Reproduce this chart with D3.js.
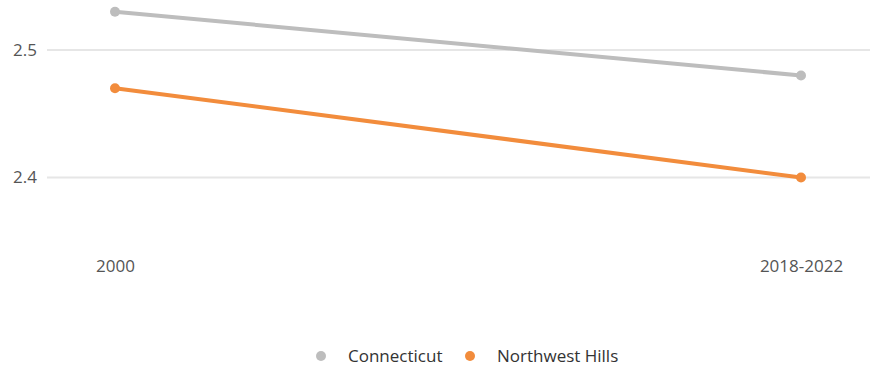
<!DOCTYPE html>
<html>
<head>
<meta charset="utf-8">
<script src="https://cdn.jsdelivr.net/npm/d3@7"></script>
<style>
  body { margin: 0; background: #fff; font-family: "Open Sans", sans-serif; }
  .axis text { fill: #555; font-size: 17px; font-family: "Open Sans", sans-serif; }
  .axis path, .axis line { display: none; }
  .grid line { stroke: #e6e6e6; stroke-width: 2; }
  .legend text { fill: #333; font-size: 17px; font-family: "Open Sans", sans-serif; }
</style>
</head>
<body>
<div id="chart"></div>
<script>
// data
const periods = ["2000", "2018-2022"];
const connecticut = [2.53, 2.48];
const northwestHills = [2.47, 2.40];
const yTicks = [2.4, 2.5];

const seriesNames = ["Connecticut", "Northwest Hills"];
const colors = ["#bdbdbd", "#f28c3c"];

const width = 877, height = 368;
const series = [connecticut, northwestHills].map((vals, i) => ({
  name: seriesNames[i],
  color: colors[i],
  values: vals.map((v, j) => ({ period: periods[j], value: v }))
}));

const svg = d3.select("#chart").append("svg")
  .attr("width", width)
  .attr("height", height);

// scales
const x = d3.scalePoint()
  .domain(periods)
  .range([115, 801]);

const y = d3.scaleLinear()
  .domain([2.4, 2.5])
  .range([177.5, 50]);

// gridlines
svg.append("g")
  .attr("class", "grid")
  .selectAll("line")
  .data(yTicks)
  .join("line")
  .attr("x1", 47)
  .attr("x2", 870)
  .attr("y1", d => y(d))
  .attr("y2", d => y(d));

// y axis labels
const yAxis = d3.axisLeft(y).tickValues(yTicks).tickFormat(d3.format(".1f")).tickSize(0).tickPadding(0);
svg.append("g")
  .attr("class", "axis y-axis")
  .attr("transform", "translate(37,0)")
  .call(yAxis);

// x axis labels
const xAxis = d3.axisBottom(x).tickSize(0).tickPadding(0);
svg.append("g")
  .attr("class", "axis x-axis")
  .attr("transform", "translate(0,260)")
  .call(xAxis);

// lines
const line = d3.line()
  .x(d => x(d.period))
  .y(d => y(d.value));

svg.selectAll(".series-line")
  .data(series)
  .join("path")
  .attr("class", "series-line")
  .attr("fill", "none")
  .attr("stroke", d => d.color)
  .attr("stroke-width", 4)
  .attr("d", d => line(d.values));

// points
series.forEach(s => {
  svg.selectAll(null)
    .data(s.values)
    .join("circle")
    .attr("cx", d => x(d.period))
    .attr("cy", d => y(d.value))
    .attr("r", 5)
    .attr("fill", s.color);
});

// legend
const legendX = [321, 470];
const legend = svg.append("g").attr("class", "legend");
series.forEach((s, i) => {
  legend.append("circle")
    .attr("cx", legendX[i])
    .attr("cy", 356)
    .attr("r", 5)
    .attr("fill", s.color);
  legend.append("text")
    .attr("x", legendX[i] + 27)
    .attr("y", 356)
    .attr("dy", "0.35em")
    .text(s.name);
});
</script>
</body>
</html>
